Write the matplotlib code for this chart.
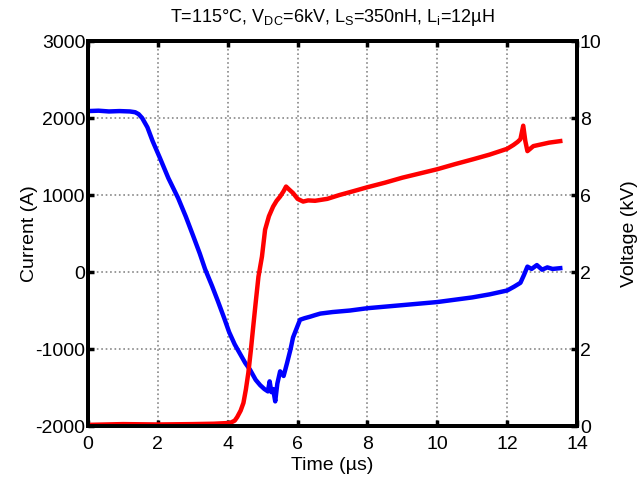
import matplotlib
matplotlib.use("Agg")
import matplotlib.pyplot as plt

# current (blue, left axis)
t_cur = [0.0, 0.3, 0.6, 0.9, 1.2, 1.35, 1.45, 1.55, 1.7, 1.85, 2.06, 2.3, 2.58, 2.8, 3.01,
         3.2, 3.35, 3.55, 3.72, 3.9, 4.04, 4.2, 4.35, 4.5, 4.64, 4.8, 4.93, 5.05, 5.15, 5.2,
         5.25, 5.3, 5.36, 5.42, 5.5, 5.6, 5.7, 5.8, 5.87, 6.0, 6.07, 6.2, 6.36, 6.5, 6.65,
         7.0, 7.5, 8.0, 8.5, 9.0, 9.5, 10.0, 10.5, 11.0, 11.5, 12.0, 12.2, 12.38, 12.48, 12.58,
         12.7, 12.85, 13.0, 13.15, 13.3, 13.52]
cur = [2090, 2095, 2085, 2090, 2085, 2075, 2050, 2000, 1880, 1700, 1480, 1220, 960, 720, 470,
       240, 40, -180, -380, -600, -780, -940, -1060, -1180, -1270, -1400, -1470, -1520, -1550, -1420,
       -1560, -1520, -1680, -1450, -1290, -1350, -1180, -1000, -850, -700, -620, -600, -580, -560, -540,
       -520, -500, -470, -450, -430, -410, -390, -360, -330, -290, -240, -190, -140, -40, 70,
       40, 90, 30, 60, 40, 50]

# voltage (red, right axis)
t_vol = [0.0, 1.0, 2.0, 3.0, 3.6, 4.07, 4.2, 4.27, 4.37, 4.45, 4.52, 4.59, 4.66, 4.73, 4.8,
         4.88, 4.98, 5.07, 5.18, 5.3, 5.4, 5.5, 5.6, 5.67, 5.75, 5.87, 6.0, 6.16, 6.3, 6.5,
         6.85, 7.2, 7.6, 7.99, 8.5, 9.0, 9.5, 10.0, 10.5, 11.03, 11.5, 12.0, 12.18, 12.3, 12.38,
         12.46, 12.52, 12.58, 12.75, 13.0, 13.2, 13.52]
vol = [0.03, 0.05, 0.04, 0.05, 0.06, 0.08, 0.14, 0.23, 0.4, 0.6, 0.95, 1.38, 1.95, 2.58, 3.2,
       3.88, 4.4, 5.1, 5.45, 5.7, 5.85, 5.96, 6.1, 6.22, 6.15, 6.05, 5.9, 5.83, 5.86, 5.85,
       5.9, 6.0, 6.1, 6.2, 6.32, 6.45, 6.56, 6.67, 6.8, 6.93, 7.05, 7.2, 7.3, 7.38, 7.45,
       7.8, 7.4, 7.14, 7.27, 7.32, 7.36, 7.4]

x_ticks = [0, 2, 4, 6, 8, 10, 12, 14]
cur_ticks = [-2000, -1000, 0, 1000, 2000, 3000]
vol_ticks = [0, 2, 4, 6, 8, 10]
vol_ticklabels = ["0", "2", "2", "6", "8", "10"]

plt.rcParams['font.family'] = ['Liberation Sans', 'DejaVu Sans']
plt.rcParams['mathtext.fontset'] = 'custom'
plt.rcParams['mathtext.rm'] = 'Liberation Sans'
plt.rcParams['axes.unicode_minus'] = False

fig = plt.figure(figsize=(6.4, 4.79), dpi=100)
ax = fig.add_axes([0.1375, 0.1106, 0.7641, 0.8038])
ax2 = ax.twinx()

ax.plot(t_cur, cur, color='#0000ff', lw=3.2)
ax2.plot(t_vol, vol, color='#ff0000', lw=3.2)

ax.set_xlim(0, 14)
ax.set_ylim(-2000, 3000)
ax2.set_ylim(0, 10)
ax.set_xticks(x_ticks)
ax.set_yticks(cur_ticks)
ax2.set_yticks(vol_ticks)
ax2.set_yticklabels(vol_ticklabels)

ax.grid(True, linestyle=':', color='#888888', lw=1.2)
for a in (ax, ax2):
    for s in a.spines.values():
        s.set_linewidth(2.8)
    a.tick_params(direction='in', length=4, width=2.5, labelsize=14, pad=2)
ax.tick_params(axis='x', top=True, pad=7)

ax.set_xlabel('Time (\u00b5s)', fontsize=14, labelpad=3)
ax.set_ylabel('Current (A)', fontsize=14, labelpad=-2)
ax2.set_ylabel('Voltage (kV)', fontsize=14, labelpad=14)
ax.set_title(r'T=115°C, V$_{\rm DC}$=6kV, L$_{\rm S}$=350nH, L$_{\rm i}$=12µH', fontsize=13, pad=14)

fig.savefig('out.png', dpi=100)
